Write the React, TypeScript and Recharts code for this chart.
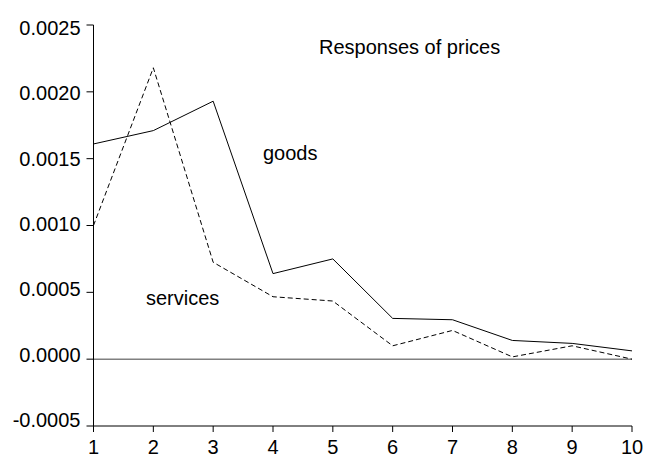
import React from "react";
import { LineChart, Line, XAxis, YAxis, ReferenceLine, Customized } from "recharts";

const periods = [1, 2, 3, 4, 5, 6, 7, 8, 9, 10];
const goods = [0.00161, 0.00171, 0.00193, 0.00064, 0.00075, 0.000305, 0.000295, 0.00014, 0.000118, 0.000062];
const services = [0.00100, 0.00218, 0.000725, 0.000467, 0.000435, 0.0001, 0.000215, 0.000017, 0.0001, 0.0];
const yTicks = [-0.0005, 0, 0.0005, 0.001, 0.0015, 0.002, 0.0025];
const xTicks = [1, 2, 3, 4, 5, 6, 7, 8, 9, 10];
const title = "Responses of prices";
const goodsLabel = "goods";
const servicesLabel = "services";

const data = periods.map((p, i) => ({ period: p, goods: goods[i], services: services[i] }));

const FONT = '"Liberation Sans", Arial, Helvetica, sans-serif';

const YTick = (props: any) => {
  const { x, y, payload } = props;
  const v = payload.value as number;
  const off = -6 + (9 * (v + 0.0005)) / 0.003;
  return (
    <text x={x} y={y + off} dy="0.355em" textAnchor="end" fill="#000" fontSize={20} fontFamily={FONT}>
      {v.toFixed(4)}
    </text>
  );
};

const Labels = () => (
  <g fontFamily={FONT} fontSize={20} fill="#000">
    <text x={319} y={54}>{title}</text>
    <text x={263} y={160}>{goodsLabel}</text>
    <text x={146} y={305}>{servicesLabel}</text>
  </g>
);

export default function App() {
  return (
    <div style={{ position: "absolute", left: 0, top: 0, background: "#fff" }}>
      <LineChart
        width={645}
        height={462}
        data={data}
        margin={{ top: 25, right: 13, bottom: 6, left: 0 }}
      >
        <XAxis
          dataKey="period"
          type="number"
          domain={[1, 10]}
          ticks={xTicks}
          interval={0}
          height={30}
          stroke="#000"
          tickSize={6}
          tickMargin={8}
          tick={{ fill: "#000", fontSize: 20, fontFamily: FONT }}
        />
        <YAxis
          type="number"
          domain={[-0.0005, 0.0025]}
          ticks={yTicks}
          interval={0}
          width={93.5}
          stroke="#000"
          tickSize={7}
          tickMargin={6}
          tick={<YTick />}
        />
        <ReferenceLine y={0} stroke="#808080" strokeWidth={1.5} />
        <Line
          type="linear"
          dataKey="goods"
          stroke="#000"
          strokeWidth={1}
          dot={false}
          isAnimationActive={false}
        />
        <Line
          type="linear"
          dataKey="services"
          stroke="#000"
          strokeWidth={1}
          strokeDasharray="5 3"
          dot={false}
          isAnimationActive={false}
        />
        <Customized component={Labels} />
      </LineChart>
    </div>
  );
}
